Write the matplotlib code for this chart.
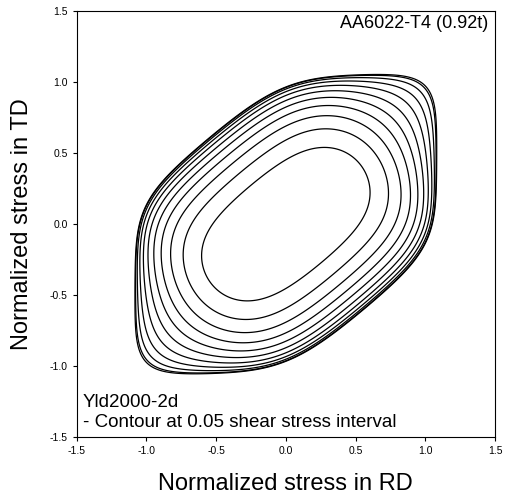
import numpy as np
import matplotlib.pyplot as plt

plt.rcParams['font.family'] = ['Liberation Sans', 'DejaVu Sans']

# Yld2000-2d coefficients (alpha1..alpha8) and exponent
alpha = [0.677, 1.196, 0.9986, 1.0361, 1.0072, 0.9997, 0.97, 1.08]
expo = 8
# shear stress levels of the contours
shear_levels = [0.0, 0.05, 0.10, 0.15, 0.20, 0.25, 0.30, 0.35, 0.40, 0.45, 0.50]
ticks = [-1.5, -1.0, -0.5, 0.0, 0.5, 1.0, 1.5]


def yld2000(sx, sy, sxy):
    a1, a2, a3, a4, a5, a6, a7, a8 = alpha
    # L' and L'' transformations
    xp_xx = (2 * a1 * sx - a1 * sy) / 3.0
    xp_yy = (-a2 * sx + 2 * a2 * sy) / 3.0
    xp_xy = a7 * sxy
    xpp_xx = ((-2 * a3 + 2 * a4 + 8 * a5 - 2 * a6) * sx + (a3 - 4 * a4 - 4 * a5 + 4 * a6) * sy) / 9.0
    xpp_yy = ((4 * a3 - 4 * a4 - 4 * a5 + a6) * sx + (-2 * a3 + 8 * a4 + 2 * a5 - 2 * a6) * sy) / 9.0
    xpp_xy = a8 * sxy
    r1 = np.sqrt(((xp_xx - xp_yy) / 2) ** 2 + xp_xy ** 2)
    phi1 = np.abs(2 * r1) ** expo
    m2 = (xpp_xx + xpp_yy) / 2
    r2 = np.sqrt(((xpp_xx - xpp_yy) / 2) ** 2 + xpp_xy ** 2)
    x1 = m2 + r2
    x2 = m2 - r2
    phi2 = np.abs(2 * x2 + x1) ** expo + np.abs(2 * x1 + x2) ** expo
    return ((phi1 + phi2) / 2.0) ** (1.0 / expo)


g = np.linspace(-1.5, 1.5, 701)
SX, SY = np.meshgrid(g, g)

fig = plt.figure(figsize=(5.14, 4.97), dpi=100)
ax = fig.add_axes([0.1492, 0.120, 0.8138, 0.858])

# one yield locus per shear stress level
for t in shear_levels:
    ax.contour(SX, SY, yld2000(SX, SY, t), levels=[1.0], colors='k', linewidths=0.9)

ax.set_xlim(-1.5, 1.5)
ax.set_ylim(-1.5, 1.5)
ax.set_xticks(ticks)
ax.set_yticks(ticks)
ax.set_xticklabels(['%.1f' % v for v in ticks])
ax.set_yticklabels(['%.1f' % v for v in ticks])
ax.tick_params(direction='out', length=3, width=0.8, labelsize=7.5, top=False, right=False)
for s in ax.spines.values():
    s.set_linewidth(0.8)

ax.set_xlabel('Normalized stress in RD', fontsize=17, labelpad=12)
ax.set_ylabel('Normalized stress in TD', fontsize=17, labelpad=12)

ax.text(0.984, 0.960, 'AA6022-T4 (0.92t)', transform=ax.transAxes, ha='right', va='baseline', fontsize=13)
ax.text(0.015, 0.071, 'Yld2000-2d', transform=ax.transAxes, ha='left', va='baseline', fontsize=13.5)
ax.text(0.015, 0.024, '- Contour at 0.05 shear stress interval', transform=ax.transAxes,
        ha='left', va='baseline', fontsize=13.5)

fig.savefig('out.png', dpi=100)
